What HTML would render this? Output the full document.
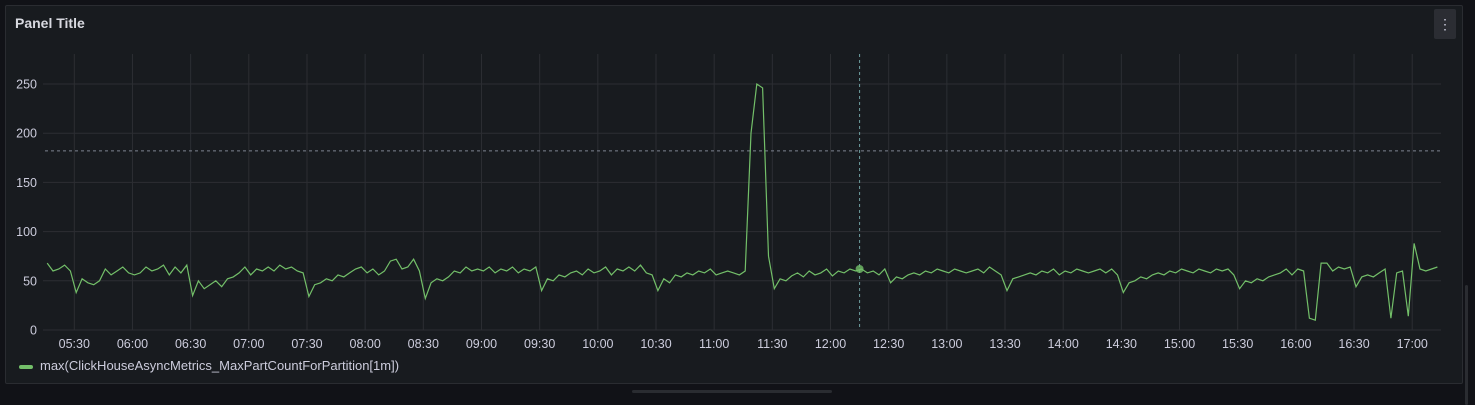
<!DOCTYPE html>
<html><head><meta charset="utf-8"><style>
body{margin:0;width:1475px;height:405px;background:#111217;overflow:hidden;font-family:"Liberation Sans",sans-serif}
#panel{position:absolute;left:5px;top:5px;width:1456px;height:377px;background:#181b1f;border:1px solid #2a2c31;border-radius:2px}
#title{position:absolute;left:9px;top:9px;color:#d8d9e0;font-size:14px;font-weight:bold}
#menu{position:absolute;left:1428px;top:3px;width:22px;height:30px;background:#2b2d33;border-radius:2px;color:#ccccdc;text-align:center;line-height:30px;font-size:14px}
#legend{position:absolute;left:13px;top:352px;color:#ccccdc;font-size:13px}
#legend span.sw{display:inline-block;width:14px;height:4px;background:#73bf69;border-radius:2px;vertical-align:middle;margin-right:7px}
svg{position:absolute;left:0;top:0}
</style></head><body>
<div id="panel">
<div id="title">Panel Title</div>
<div id="menu">⋮</div>
<div id="legend"><span class="sw"></span>max(ClickHouseAsyncMetrics_MaxPartCountForPartition[1m])</div>
</div>
<div style="position:absolute;left:1465px;top:285px;width:3px;height:120px;background:#2a2c31;border-radius:2px"></div>
<div style="position:absolute;left:632px;top:390px;width:200px;height:3px;background:#2a2c31;border-radius:2px"></div>
<svg id="chart" width="1475" height="405"></svg>
<script>
const startMinute = 5*60+16;
const stepMinutes = 3;
const yTicks = [0,50,100,150,200,250];
const xTickLabels = ["05:30","06:00","06:30","07:00","07:30","08:00","08:30","09:00","09:30","10:00","10:30","11:00","11:30","12:00","12:30","13:00","13:30","14:00","14:30","15:00","15:30","16:00","16:30","17:00"];
const threshold = 182;
const crosshairMinute = 12*60+15;
const values = [
68,60,62,66,60,38,52,48,46,50,62,56,60,64,58,56,58,64,60,62,
66,56,64,58,66,35,50,42,46,50,44,52,54,58,64,56,62,60,64,60,
66,62,64,60,58,34,46,48,52,50,56,54,58,62,64,58,62,56,60,70,
72,62,64,72,60,32,48,52,50,54,60,58,64,60,62,60,64,58,62,60,
64,58,62,60,64,40,52,50,56,54,58,60,56,62,58,60,64,56,62,60,
64,60,66,58,56,40,52,48,56,54,58,56,60,58,62,56,58,60,58,56,
60,200,250,246,75,42,52,50,55,58,54,60,56,58,62,55,60,58,62,60,
62,58,60,56,62,48,54,52,56,58,56,60,58,62,60,58,62,60,58,60,
62,58,64,60,56,40,52,54,56,58,56,60,58,62,56,60,58,62,60,58,
60,62,58,62,56,38,48,50,54,52,56,58,56,60,58,62,60,58,62,60,
58,62,60,62,56,42,50,48,52,50,54,56,58,62,56,62,60,12,10,68,
68,60,64,62,64,44,54,56,54,58,62,12,58,60,14,88,62,60,62,64
];
const NS="http://www.w3.org/2000/svg";
const svg=document.getElementById('chart');
const x0=74.3, pxPerMin=58.17/30, m0=5*60+30;
const xs=m=>x0+(m-m0)*pxPerMin;
const ys=v=>330-v*(246/250);
function mk(tag,attrs){const e=document.createElementNS(NS,tag);for(const k in attrs)e.setAttribute(k,attrs[k]);svg.appendChild(e);return e;}
yTicks.forEach(v=>{
  const l=mk('line',{x1:43,x2:1441,y1:ys(v),y2:ys(v),stroke:'#2c2e33','stroke-width':1});
  
  
  const t=mk('text',{x:37,y:ys(v)+4.5,fill:'#ccccdc','font-size':12.5,'text-anchor':'end','font-family':'Liberation Sans'});
  t.textContent=v;
  
  
});
xTickLabels.forEach(s=>{
  const [h,mm]=s.split(':').map(Number);const x=xs(h*60+mm);
  const l=mk('line',{x1:x,x2:x,y1:54,y2:330,stroke:'#2c2e33','stroke-width':1});
  
  
  const t=mk('text',{x:x,y:348,fill:'#ccccdc','font-size':12.5,'text-anchor':'middle','font-family':'Liberation Sans'});
  t.textContent=s;
  
  
});
const th=mk('line',{x1:45,x2:1441,y1:ys(threshold),y2:ys(threshold),stroke:'#7d8290','stroke-width':1,'stroke-dasharray':'3,3'});


const ch=mk('line',{x1:xs(crosshairMinute),x2:xs(crosshairMinute),y1:54,y2:330,stroke:'#6e9fa0','stroke-width':1,'stroke-dasharray':'3,3'});


let d='';
values.forEach((v,i)=>{d+=(i?'L':'M')+xs(startMinute+i*stepMinutes).toFixed(1)+','+ys(v).toFixed(1);});
const p=mk('path',{d:d,fill:'none',stroke:'#73bf69','stroke-width':1.2});


const ci=Math.round((crosshairMinute-startMinute)/stepMinutes);
const dot=mk('circle',{cx:xs(crosshairMinute),cy:ys(values[ci]),r:4,fill:'#73bf69','fill-opacity':0.8});


</script>
</body></html>
